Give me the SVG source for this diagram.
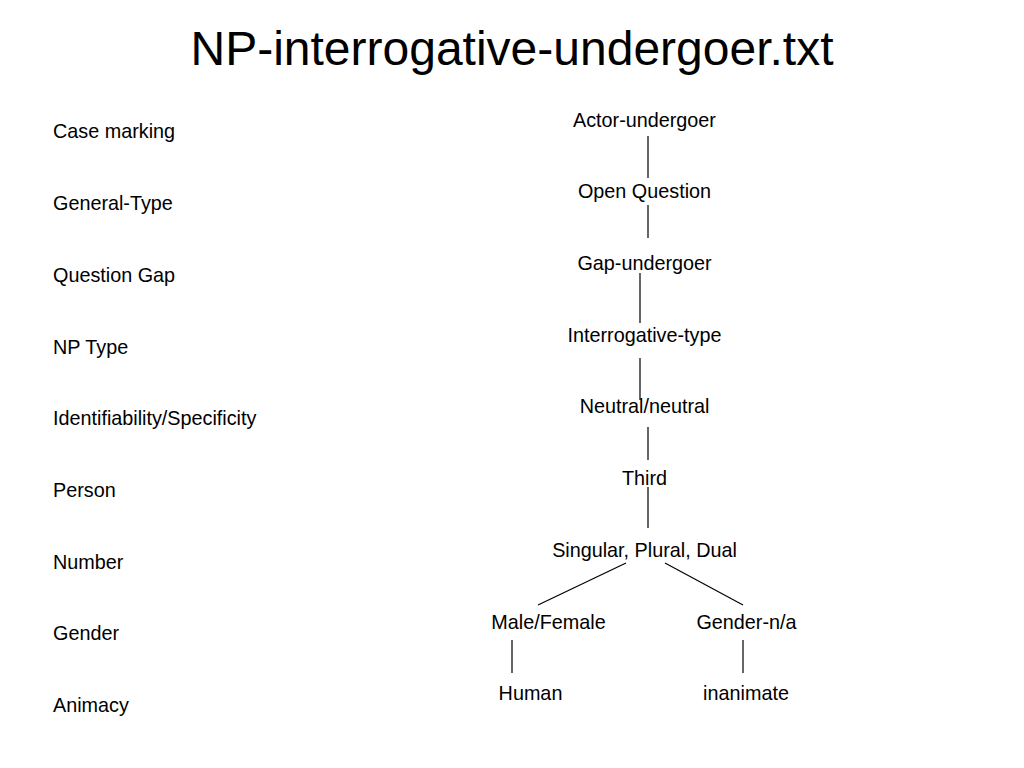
<svg xmlns="http://www.w3.org/2000/svg" width="1024" height="768" viewBox="0 0 1024 768">
<style>
text{font-family:"Liberation Sans",Arial,sans-serif;fill:#000}
.title{font-size:48px;text-anchor:middle}
.lbl{font-size:19.8px}
.node text{font-size:19.8px;text-anchor:middle}
.conn line{stroke:#000;stroke-width:1.2}
</style>
<rect width="1024" height="768" fill="#fff"/>
<text class="title" x="512" y="65">NP-interrogative-undergoer.txt</text>
<g id="labels" class="lbl">
<text x="53" y="138">Case marking</text>
<text x="53" y="210">General-Type</text>
<text x="53" y="282">Question Gap</text>
<text x="53" y="354">NP Type</text>
<text x="53" y="425">Identifiability/Specificity</text>
<text x="53" y="497">Person</text>
<text x="53" y="569">Number</text>
<text x="53" y="640">Gender</text>
<text x="53" y="712">Animacy</text>
</g>
<g id="connectors" class="conn">
<line x1="648" y1="136" x2="648" y2="178"/>
<line x1="648" y1="205" x2="648" y2="238"/>
<line x1="640" y1="273" x2="640" y2="323"/>
<line x1="640" y1="358" x2="640" y2="400"/>
<line x1="648" y1="427" x2="648" y2="460"/>
<line x1="648" y1="487" x2="648" y2="528"/>
<line x1="626" y1="563" x2="538" y2="605"/>
<line x1="665" y1="563" x2="743" y2="605"/>
<line x1="512" y1="640" x2="512" y2="673"/>
<line x1="743" y1="640" x2="743" y2="673"/>
</g>
<g id="n-actor" class="node"><text x="644.5" y="127">Actor-undergoer</text></g>
<g id="n-open" class="node"><text x="644.5" y="198">Open Question</text></g>
<g id="n-gap" class="node"><text x="644.5" y="270">Gap-undergoer</text></g>
<g id="n-interrog" class="node"><text x="644.5" y="342">Interrogative-type</text></g>
<g id="n-neutral" class="node"><text x="644.5" y="413">Neutral/neutral</text></g>
<g id="n-third" class="node"><text x="644.5" y="485">Third</text></g>
<g id="n-number" class="node"><text x="644.5" y="557">Singular, Plural, Dual</text></g>
<g id="n-malefemale" class="node"><text x="548.5" y="629">Male/Female</text></g>
<g id="n-gendera" class="node"><text x="746.5" y="629">Gender-n/a</text></g>
<g id="n-human" class="node"><text x="530.5" y="700">Human</text></g>
<g id="n-inanimate" class="node"><text x="746" y="700">inanimate</text></g>
</svg>
